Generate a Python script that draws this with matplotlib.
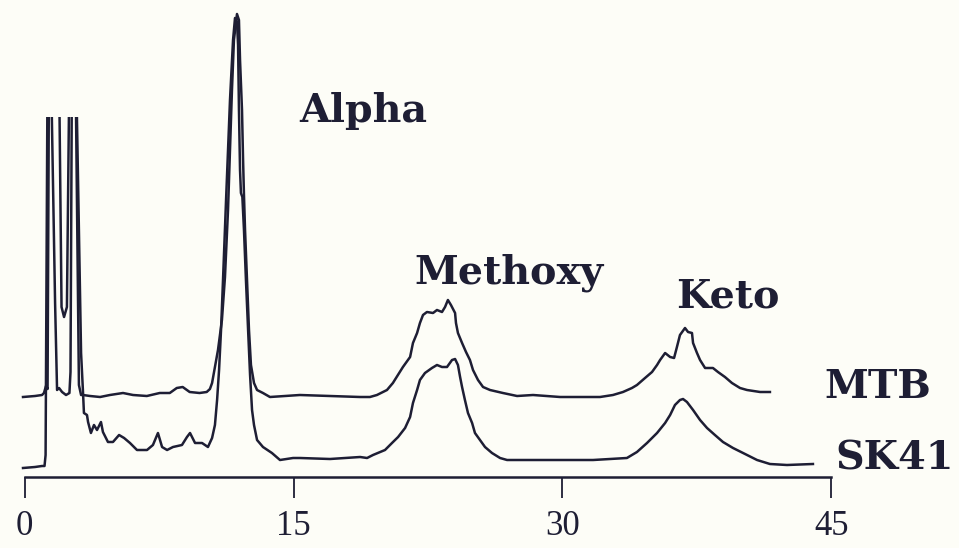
import matplotlib
matplotlib.use("Agg")
import matplotlib.pyplot as plt
from matplotlib.patches import Polygon

plt.rcParams['font.family'] = ['Liberation Serif', 'DejaVu Serif']

# retention time (min) and detector response for each run
mtb_t = [-0.10, 0.57, 0.96, 1.07, 1.18, 1.27, 1.35, 1.46, 1.69, 1.80, 1.91, 2.08, 2.30, 2.49,
         2.55, 2.63, 2.83, 2.91, 3.02, 3.14, 3.25, 3.64, 4.20, 4.75, 5.48, 6.04, 6.81, 7.53,
         8.09, 8.48, 8.81, 9.20, 9.75, 10.15, 10.33, 10.45, 10.61, 10.78, 11.00, 11.17, 11.34,
         11.45, 11.56, 11.67, 11.84, 11.95, 12.01, 12.12, 12.18, 12.23, 12.29, 12.40, 12.51,
         12.62, 12.79, 12.96, 13.29, 13.68, 14.52, 15.35, 17.03, 18.71, 19.26, 19.65, 20.21,
         20.54, 20.82, 21.10, 21.50, 21.66, 21.89, 22.05, 22.22, 22.44, 22.78, 23.00, 23.28,
         23.45, 23.61, 23.78, 24.01, 24.06, 24.17, 24.40, 24.62, 24.84, 25.01, 25.29, 25.57,
         25.96, 26.68, 27.47, 28.36, 29.87, 31.37, 32.10, 32.82, 33.38, 33.88, 34.16, 34.61,
         35.00, 35.28, 35.45, 35.73, 36.01, 36.23, 36.39, 36.56, 36.84, 37.01, 37.23, 37.29,
         37.51, 37.68, 37.96, 38.40, 38.68, 39.07, 39.46, 39.91, 40.30, 41.03, 41.58]
mtb_y = [0, 1, 2, 4, 11, 8, 330, 330, 94, 7, 9, 5, 2, 4,
         25, 330, 330, 197, 12, 2, 2, 1, 0, 2, 4, 2, 1, 4,
         4, 9, 10, 5, 4, 5, 8, 14, 30, 47, 77, 120, 187,
         247, 307, 357, 383, 377, 337, 287, 237, 202, 167, 117, 67,
         32, 14, 7, 4, 0, 1, 2, 1, 0, 0, 2, 7,
         14, 22, 30, 40, 54, 64, 74, 82, 85, 84, 87, 85,
         90, 97, 92, 84, 74, 64, 54, 45, 37, 27, 17, 10,
         7, 4, 1, 2, 0, 0, 0, 2, 5, 9, 12, 19,
         25, 32, 37, 44, 40, 39, 50, 62, 69, 65, 64, 54,
         44, 37, 29, 29, 25, 20, 14, 9, 7, 5, 5]

sk41_t = [-0.10, 0.57, 0.96, 1.10, 1.16, 1.27, 1.91, 2.05, 2.19, 2.35, 2.49, 2.86, 2.99,
          3.14, 3.25, 3.30, 3.47, 3.53, 3.69, 3.86, 4.03, 4.25, 4.36, 4.64, 4.92, 5.26, 5.54,
          5.87, 6.26, 6.82, 7.15, 7.43, 7.66, 7.94, 8.27, 8.77, 9.05, 9.22, 9.50, 9.89, 10.22,
          10.45, 10.61, 10.73, 10.84, 10.95, 11.06, 11.23, 11.34, 11.45, 11.62, 11.73, 11.84,
          11.90, 11.95, 12.01, 12.06, 12.14, 12.23, 12.34, 12.46, 12.57, 12.68, 12.79, 12.96,
          13.29, 13.79, 14.24, 14.97, 15.36, 17.03, 18.71, 19.10, 19.43, 20.10, 20.49, 20.83,
          21.22, 21.50, 21.66, 21.89, 22.05, 22.33, 22.72, 23.00, 23.28, 23.56, 23.84, 24.01,
          24.17, 24.29, 24.40, 24.56, 24.73, 24.96, 25.12, 25.40, 25.68, 26.07, 26.52, 26.91,
          28.02, 29.87, 31.71, 33.60, 34.16, 34.72, 35.28, 35.73, 36.01, 36.28, 36.56, 36.73,
          36.95, 37.29, 37.68, 38.07, 38.51, 38.96, 39.52, 40.08, 40.86, 41.58, 42.53, 43.98]
sk41_y = [-1, 0, 1, 1, 12, 400, 400, 160, 150, 160, 400, 400, 267,
          114, 74, 54, 52, 45, 34, 42, 37, 45, 35, 25, 25, 32, 29,
          24, 17, 17, 22, 34, 20, 17, 20, 22, 30, 34, 24, 24, 20,
          29, 42, 67, 97, 137, 187, 267, 317, 367, 427, 449, 445,
          422, 357, 297, 274, 270, 237, 187, 137, 92, 57, 42, 27,
          20, 14, 7, 9, 9, 8, 10, 9, 12, 17, 24, 30,
          39, 50, 64, 77, 87, 94, 99, 102, 100, 100, 107, 108,
          102, 90, 80, 67, 54, 44, 34, 27, 20, 14, 9, 7,
          7, 7, 7, 9, 15, 24, 34, 44, 52, 62, 67, 68,
          65, 57, 47, 39, 32, 25, 19, 14, 7, 3, 2, 3]

run_names = ['MTB', 'SK41']
peak_names = ['Alpha', 'Methoxy', 'Keto']
tick_values = [0, 15, 30, 45]

# vertical offsets so the two runs are stacked
mtb_offset = 80
sk41_offset = 10
spike_ceiling = 360

ink = '#1e1e34'
bg = '#fdfdf7'

fig = plt.figure(figsize=(9.59, 5.48), dpi=100, facecolor=bg)
ax = fig.add_axes([0, 0, 1, 1], facecolor=bg)
ax.set_xlim(-1.384, 52.13)
ax.set_ylim(-71, 477)

# solvent spikes at the start are cut off at the top of the trace area
clip = Polygon([(-2, -80), (-2, spike_ceiling), (4.2, spike_ceiling), (4.2, 480),
                (53, 480), (53, -80)], closed=True, transform=ax.transData)

l1, = ax.plot(mtb_t, [v + mtb_offset for v in mtb_y], color=ink, lw=1.8)
l2, = ax.plot(sk41_t, [v + sk41_offset for v in sk41_y], color=ink, lw=1.8)
l1.set_clip_path(clip)
l2.set_clip_path(clip)

lab = dict(fontsize=28.5, fontweight='bold', color=ink, ha='center', va='baseline',
           family=['DejaVu Serif'])
ax.text(18.90, 355, peak_names[0], **lab)
ax.text(27.02, 193, peak_names[1], **lab)
ax.text(39.21, 170, peak_names[2], **lab)
ax.text(47.58, 79, run_names[0], **lab)
ax.text(48.55, 7, run_names[1], **lab)

# time axis
for s in ['top', 'left', 'right']:
    ax.spines[s].set_visible(False)
ax.spines['bottom'].set_position(('data', 0))
ax.spines['bottom'].set_bounds(0, 45)
ax.spines['bottom'].set_linewidth(1.8)
ax.spines['bottom'].set_color(ink)
ax.set_yticks([])
ax.set_xticks(tick_values)
ax.set_xticklabels([str(v) for v in tick_values])
ax.tick_params(axis='x', direction='out', length=15, width=1.3, color=ink,
               pad=9, labelsize=25, labelcolor=ink)
for tick in ax.xaxis.get_major_ticks()[:2]:
    tick.tick1line.set_color('#a9a9d6')

fig.savefig('out.png', dpi=100, facecolor=bg)
